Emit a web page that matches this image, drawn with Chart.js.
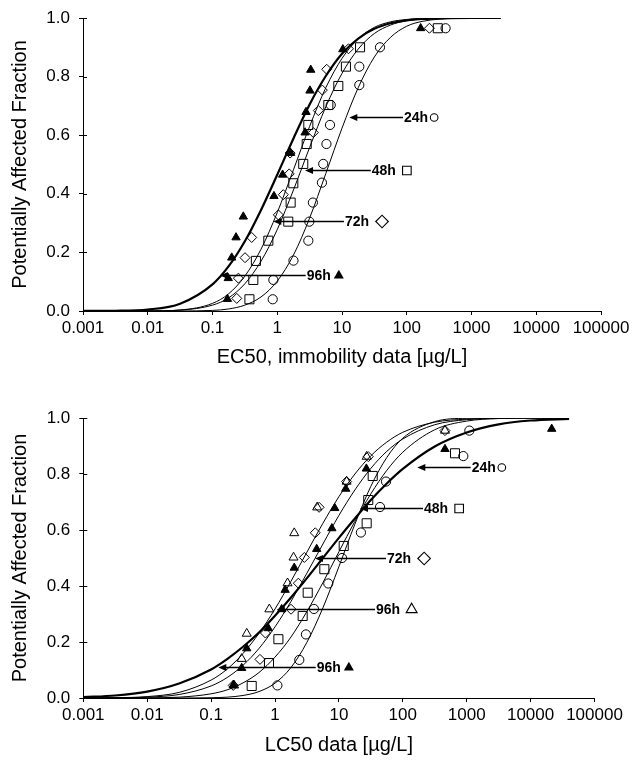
<!DOCTYPE html>
<html>
<head>
<meta charset="utf-8">
<script src="https://cdn.jsdelivr.net/npm/chart.js@4.4.1/dist/chart.umd.min.js"></script>
<style>
  html, body { margin: 0; padding: 0; background: #fff; }
  .panel { position: relative; width: 632px; height: 380px; }
</style>
</head>
<body>
<div class="panel"><canvas id="topChart" width="632" height="380"></canvas></div>
<div class="panel"><canvas id="bottomChart" width="632" height="380"></canvas></div>
<script>
// shared log axis
const tickValues = [0.001, 0.01, 0.1, 1, 10, 100, 1000, 10000, 100000];
const tickLabels = ['0.001', '0.01', '0.1', '1', '10', '100', '1000', '10000', '100000'];

// ---- top panel: EC50, immobility ----
const topCurveX = [0.001, 0.00316, 0.01, 0.0316, 0.1, 0.178, 0.316, 0.562, 1, 1.78, 3.16, 5.62, 10, 17.8, 31.6, 56.2, 100, 178, 316, 1000, 2820];
const topFit24h = [0, 0, 0, 0.0001, 0.002, 0.007, 0.020, 0.048, 0.102, 0.191, 0.317, 0.469, 0.624, 0.762, 0.867, 0.934, 0.972, 0.989, 0.996, 1.0, 1.0];
const topFit48h = [0, 0, 0.0002, 0.003, 0.020, 0.045, 0.093, 0.170, 0.278, 0.413, 0.558, 0.697, 0.811, 0.894, 0.947, 0.976, 0.991, 0.997, 0.999, 1.0, 1.0];
const topFit72h = [0, 0, 0.0003, 0.0035, 0.026, 0.059, 0.119, 0.211, 0.336, 0.482, 0.630, 0.762, 0.862, 0.929, 0.968, 0.987, 0.995, 0.9986, 0.9996, 1.0, 1.0];
const topFit96h = [0.0001, 0.0007, 0.005, 0.025, 0.091, 0.153, 0.238, 0.345, 0.465, 0.589, 0.705, 0.802, 0.878, 0.930, 0.963, 0.982, 0.992, 0.997, 0.999, 1.0, 1.0];

const top24hX = [0.851, 0.871, 1.78, 3.02, 3.13, 3.55, 4.90, 5.13, 5.75, 6.53, 6.70, 18.5, 18.5, 38.6, 398];
const top24hY = [0.040, 0.106, 0.172, 0.240, 0.305, 0.370, 0.438, 0.502, 0.570, 0.635, 0.703, 0.771, 0.834, 0.900, 0.965];
const top48hX = [0.372, 0.427, 0.468, 0.728, 1.48, 1.61, 1.77, 2.52, 2.85, 3.02, 6.15, 8.77, 11.5, 19.0, 302];
const top48hY = [0.040, 0.106, 0.171, 0.240, 0.305, 0.370, 0.436, 0.502, 0.570, 0.635, 0.703, 0.768, 0.834, 0.900, 0.965];
const top72hX = [0.237, 0.251, 0.318, 0.403, 1.04, 1.24, 1.53, 1.58, 3.61, 4.31, 4.97, 5.81, 12.6, 224];
const top72hY = [0.043, 0.112, 0.182, 0.251, 0.328, 0.397, 0.468, 0.539, 0.609, 0.684, 0.754, 0.825, 0.895, 0.965];
const top96hX = [0.170, 0.175, 0.198, 0.231, 0.299, 0.89, 1.21, 1.61, 2.69, 2.78, 3.20, 3.29, 10.3, 164];
const top96hY = [0.041, 0.112, 0.182, 0.251, 0.322, 0.392, 0.465, 0.539, 0.609, 0.679, 0.752, 0.823, 0.893, 0.965];

const topArrows = [
  { text: '24h', tip: [12.97, 0.661], textAt: 90.8, marker: 'circle' },
  { text: '48h', tip: [2.69, 0.481], textAt: 28.8, marker: 'square' },
  { text: '72h', tip: [0.87, 0.307], textAt: 11.1, marker: 'diamond' },
  { text: '96h', tip: [0.1306, 0.122], textAt: 2.85, marker: 'triFilled' }
];

// ---- bottom panel: LC50 ----
const botCurveX = [0.001, 0.00316, 0.01, 0.0316, 0.1, 0.178, 0.316, 0.562, 1, 1.78, 3.16, 5.62, 10, 17.8, 31.6, 56.2, 100, 316, 1000, 3160, 10000, 40000];
const botFit96hFilled = [0.003, 0.009, 0.023, 0.052, 0.102, 0.139, 0.183, 0.234, 0.294, 0.359, 0.428, 0.500, 0.572, 0.641, 0.707, 0.766, 0.818, 0.898, 0.948, 0.977, 0.991, 0.997];
const botFit96hOpen = [0.0001, 0.001, 0.005, 0.020, 0.064, 0.103, 0.159, 0.231, 0.318, 0.417, 0.521, 0.624, 0.719, 0.800, 0.865, 0.914, 0.949, 0.985, 0.996, 0.999, 1.0, 1.0];
const botFit72h = [0.0001, 0.0005, 0.003, 0.0125, 0.043, 0.073, 0.117, 0.177, 0.254, 0.345, 0.446, 0.550, 0.652, 0.743, 0.820, 0.881, 0.925, 0.976, 0.994, 0.999, 1.0, 1.0];
const botFit48h = [0, 0.0001, 0.0005, 0.003, 0.015, 0.029, 0.054, 0.091, 0.146, 0.218, 0.309, 0.412, 0.522, 0.631, 0.729, 0.813, 0.878, 0.958, 0.989, 0.998, 1.0, 1.0];
const botFit24h = [0, 0, 0, 0, 0.001, 0.003, 0.009, 0.023, 0.053, 0.109, 0.199, 0.322, 0.469, 0.621, 0.756, 0.859, 0.928, 0.987, 0.999, 1.0, 1.0, 1.0];

const bot24hX = [1.09, 2.40, 3.05, 4.07, 6.82, 11.2, 22.1, 44.0, 54.6, 885, 1100];
const bot24hY = [0.045, 0.136, 0.227, 0.318, 0.409, 0.500, 0.591, 0.682, 0.773, 0.864, 0.955];
const bot48hX = [0.432, 0.805, 1.13, 2.71, 3.25, 5.92, 11.9, 27.2, 28.8, 33.8, 656];
const bot48hY = [0.043, 0.125, 0.210, 0.293, 0.376, 0.460, 0.543, 0.624, 0.707, 0.793, 0.874];
const bot72hX = [0.222, 0.582, 0.708, 1.78, 2.32, 2.88, 4.27, 4.90, 13.2, 28.8, 457];
const bot72hY = [0.045, 0.138, 0.232, 0.317, 0.410, 0.502, 0.590, 0.681, 0.773, 0.862, 0.955];
const bot96hOpenX = [0.229, 0.301, 0.361, 0.815, 1.57, 1.95, 2.00, 4.57, 13.2, 27.2, 457];
const bot96hOpenY = [0.045, 0.140, 0.230, 0.317, 0.410, 0.502, 0.589, 0.681, 0.773, 0.862, 0.955];
const bot96hFilledX = [0.222, 0.301, 0.361, 0.785, 1.27, 1.44, 2.00, 4.49, 7.76, 8.61, 12.8, 26.9, 457, 21400];
const bot96hFilledY = [0.046, 0.107, 0.177, 0.249, 0.317, 0.386, 0.465, 0.532, 0.606, 0.678, 0.747, 0.819, 0.889, 0.961];

const botArrows = [
  { text: '24h', tip: [168.7, 0.826], textAt: 1197, marker: 'circle' },
  { text: '48h', tip: [21.4, 0.680], textAt: 215, marker: 'square' },
  { text: '72h', tip: [4.23, 0.499], textAt: 56.6, marker: 'diamond' },
  { text: '96h', tip: [1.064, 0.317], textAt: 38.1, marker: 'triOpen' },
  { text: '96h', tip: [0.1297, 0.112], textAt: 4.5, marker: 'triFilled' }
];

// ---- styling ----
const FONT = '"Liberation Sans", Arial, sans-serif';
const labelMarkers = {
  circle: { shape: 'circle', size: 3.8, offset: 6, filled: false },
  square: { shape: 'rect', size: 4.3, offset: 11, filled: false },
  diamond: { shape: 'diamond', size: 6.3, offset: 13, filled: false },
  triFilled: { shape: 'tri', size: 5.8, offset: 8, filled: true },
  triOpen: { shape: 'tri', size: 6.3, offset: 11.5, filled: false }
};

function toPoints(xs, ys) {
  return xs.map((x, i) => ({ x: x, y: ys[i] }));
}

function curve(xs, ys, width) {
  return {
    data: toPoints(xs, ys), showLine: true, pointRadius: 0,
    borderColor: '#000', borderWidth: width, fill: false,
    cubicInterpolationMode: 'monotone'
  };
}

function marks(xs, ys, style, radius, filled) {
  return {
    data: toPoints(xs, ys), showLine: false,
    pointStyle: style, pointRadius: radius, pointBorderWidth: 1,
    pointBorderColor: '#000', pointBackgroundColor: filled ? '#000' : 'rgba(0,0,0,0)',
    clip: false
  };
}

function drawMarker(ctx, m, x, y) {
  const r = m.size;
  ctx.beginPath();
  if (m.shape === 'circle') {
    ctx.arc(x, y, r, 0, Math.PI * 2);
  } else if (m.shape === 'rect') {
    ctx.rect(x - r, y - r, r * 2, r * 2);
  } else if (m.shape === 'diamond') {
    ctx.moveTo(x - r, y); ctx.lineTo(x, y - r); ctx.lineTo(x + r, y); ctx.lineTo(x, y + r);
    ctx.closePath();
  } else {
    ctx.moveTo(x, y - r); ctx.lineTo(x + r * 0.866, y + r / 2); ctx.lineTo(x - r * 0.866, y + r / 2);
    ctx.closePath();
  }
  if (m.filled) ctx.fill(); else ctx.stroke();
}

// arrows with labels, plus the inner half of the y tick marks
const annotatePlugin = {
  id: 'annotate',
  afterDraw(chart, args, opts) {
    const { ctx, chartArea } = chart;
    const xs = chart.scales.x, ys = chart.scales.y;
    ctx.save();
    ctx.strokeStyle = '#000';
    ctx.fillStyle = '#000';
    ctx.lineWidth = 1;
    ys.ticks.forEach(t => {
      const py = Math.round(ys.getPixelForValue(t.value)) + 0.5;
      ctx.beginPath();
      ctx.moveTo(chartArea.left, py);
      ctx.lineTo(chartArea.left + 4, py);
      ctx.stroke();
    });
    (opts.items || []).forEach(a => {
      const tx = xs.getPixelForValue(a.tip[0]);
      const ty = Math.round(ys.getPixelForValue(a.tip[1])) + 0.5;
      const lx = xs.getPixelForValue(a.textAt);
      ctx.lineWidth = 1.6;
      ctx.beginPath();
      ctx.moveTo(lx - 1, ty);
      ctx.lineTo(tx + 5, ty);
      ctx.stroke();
      ctx.beginPath();
      ctx.moveTo(tx, ty);
      ctx.lineTo(tx + 8, ty - 3.5);
      ctx.lineTo(tx + 8, ty + 3.5);
      ctx.closePath();
      ctx.fill();
      ctx.font = 'bold 14px ' + FONT;
      ctx.textBaseline = 'middle';
      ctx.textAlign = 'left';
      ctx.fillText(a.text, lx, ty + 1);
      const w = ctx.measureText(a.text).width;
      ctx.lineWidth = 1.1;
      const m = labelMarkers[a.marker];
      drawMarker(ctx, m, lx + w + m.offset, ty);
    });
    ctx.restore();
  }
};

function buildOptions(p) {
  return {
    responsive: false,
    animation: false,
    events: [],
    layout: { padding: { left: 0, top: p.padTop, right: p.padRight, bottom: 0 } },
    plugins: {
      legend: { display: false },
      tooltip: { enabled: false },
      annotate: { items: p.arrows }
    },
    scales: {
      x: {
        type: 'logarithmic', min: 0.001, max: 100000,
        border: { color: '#000', width: 1 },
        grid: { drawOnChartArea: false, drawTicks: true, tickLength: 4, color: '#000' },
        ticks: {
          color: '#000', font: { family: FONT, size: 17 }, padding: 3,
          autoSkip: false, maxRotation: 0, minRotation: 0,
          callback: (v, i) => tickLabels[i]
        },
        afterBuildTicks: s => { s.ticks = tickValues.map(v => ({ value: v })); },
        afterFit: s => { s.height = p.xAxisHeight; s.paddingLeft = 0; s.paddingRight = 0; },
        title: {
          display: true, text: p.xTitle, color: '#000',
          font: { family: FONT, size: 20 }, padding: { top: 0, bottom: p.xTitlePad }
        }
      },
      y: {
        type: 'linear', min: 0, max: 1,
        border: { color: '#000', width: 1 },
        grid: { drawOnChartArea: false, drawTicks: true, tickLength: 4, color: '#000' },
        ticks: {
          color: '#000', font: { family: FONT, size: 17 }, padding: 9, stepSize: 0.2,
          callback: v => v.toFixed(1)
        },
        afterFit: s => { s.width = p.yAxisWidth; s.paddingTop = 0; s.paddingBottom = 0; },
        title: {
          display: true, text: 'Potentially Affected Fraction', color: '#000',
          font: { family: FONT, size: 20 }, padding: { top: 8, bottom: 0 }
        }
      }
    }
  };
}

new Chart(document.getElementById('topChart'), {
  type: 'scatter',
  data: {
    datasets: [
      marks(top24hX, top24hY, 'circle', 4.6, false),
      marks(top48hX, top48hY, 'rect', 6.4, false),
      marks(top72hX, top72hY, 'rectRot', 5.0, false),
      marks(top96hX, top96hY, 'triangle', 4.8, true),
      curve(topCurveX, topFit24h, 1),
      curve(topCurveX, topFit48h, 1),
      curve(topCurveX, topFit72h, 1),
      curve(topCurveX, topFit96h, 2.2)
    ]
  },
  options: buildOptions({
    padTop: 18, padRight: 31, xAxisHeight: 69, yAxisWidth: 83, xTitlePad: 11,
    xTitle: 'EC50, immobility data [µg/L]', arrows: topArrows
  }),
  plugins: [annotatePlugin]
});

new Chart(document.getElementById('bottomChart'), {
  type: 'scatter',
  data: {
    datasets: [
      marks(bot24hX, bot24hY, 'circle', 4.6, false),
      marks(bot48hX, bot48hY, 'rect', 6.4, false),
      marks(bot72hX, bot72hY, 'rectRot', 5.0, false),
      marks(bot96hOpenX, bot96hOpenY, 'triangle', 5.2, false),
      marks(bot96hFilledX, bot96hFilledY, 'triangle', 4.8, true),
      curve(botCurveX, botFit24h, 1),
      curve(botCurveX, botFit48h, 1),
      curve(botCurveX, botFit72h, 1),
      curve(botCurveX, botFit96hOpen, 1),
      curve(botCurveX, botFit96hFilled, 2.2)
    ]
  },
  options: buildOptions({
    padTop: 38, padRight: 37.5, xAxisHeight: 62, yAxisWidth: 83.3, xTitlePad: 3,
    xTitle: 'LC50 data [µg/L]', arrows: botArrows
  }),
  plugins: [annotatePlugin]
});
</script>
</body>
</html>
